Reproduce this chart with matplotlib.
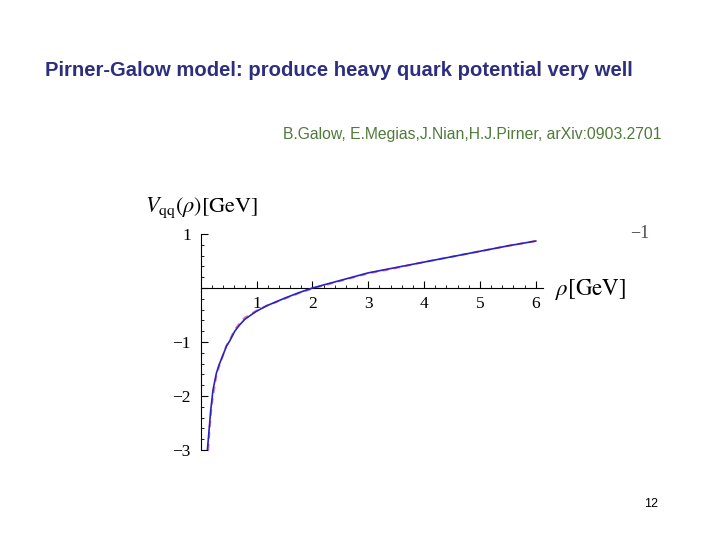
import matplotlib
matplotlib.use("Agg")
import matplotlib.pyplot as plt
from matplotlib.ticker import MultipleLocator, FixedLocator

# ---- data ----
rho_model = [0.12, 0.15, 0.18, 0.22, 0.28, 0.33, 0.40, 0.46, 0.52, 0.61, 0.70, 0.79,
             0.90, 1.00, 1.18, 1.50, 1.75, 2.00, 2.50, 3.00, 3.50, 4.00, 4.50, 5.00, 5.50, 6.00]
V_model = [-3.00, -2.63, -2.26, -1.89, -1.58, -1.42, -1.24, -1.08, -0.98, -0.80, -0.68, -0.58,
           -0.50, -0.43, -0.33, -0.19, -0.09, 0.00, 0.14, 0.28, 0.38, 0.48, 0.58, 0.68, 0.78, 0.87]

rho_ref = [0.135, 0.16, 0.19, 0.22, 0.28, 0.33, 0.40, 0.46, 0.52, 0.61, 0.70, 0.79,
           0.90, 1.00, 1.18, 1.50, 1.75, 2.00, 2.50, 3.00, 3.50, 4.00, 4.50, 5.00, 5.50, 6.00]
V_ref = [-3.00, -2.60, -2.25, -2.00, -1.63, -1.45, -1.24, -1.07, -0.96, -0.77, -0.65, -0.55,
         -0.48, -0.42, -0.33, -0.20, -0.10, -0.01, 0.13, 0.27, 0.37, 0.48, 0.58, 0.68, 0.78, 0.87]

x_ticks = [1, 2, 3, 4, 5, 6]
y_ticks = [-3, -2, -1, 1]

title = "Pirner-Galow model: produce heavy quark potential very well"
subtitle = "B.Galow, E.Megias,J.Nian,H.J.Pirner, arXiv:0903.2701"
page = "12"

plt.rcParams['mathtext.fontset'] = 'stix'

W, H = 720, 540
fig = plt.figure(figsize=(7.2, 5.4), dpi=100)

def fx(px):
    return px / W

def fy(py):
    return 1 - py / H

ax = fig.add_axes([fx(200.7), fy(450), (543 - 200.7) / W, (450 - 234) / H])
ax.set_xlim(0, 6.13)
ax.set_ylim(-3, 1)
ax.patch.set_alpha(0)

ax.plot(rho_ref, V_ref, color='#ec7ca6', lw=1.5, ls=(0, (3, 2.5)), zorder=2)
ax.plot(rho_model, V_model, color='#2424c4', lw=1.2, zorder=3)

for s in ['top', 'right']:
    ax.spines[s].set_visible(False)
ax.spines['left'].set_position(('data', 0))
ax.spines['bottom'].set_position(('data', 0))
for s in ['left', 'bottom']:
    ax.spines[s].set_linewidth(0.8)
    ax.spines[s].set_color('black')

ax.xaxis.set_major_locator(FixedLocator(x_ticks))
ax.xaxis.set_minor_locator(MultipleLocator(0.2))
ax.yaxis.set_major_locator(FixedLocator(y_ticks + [0]))
ax.yaxis.set_minor_locator(MultipleLocator(0.2))
ax.set_xticklabels([str(t) for t in x_ticks])
ax.set_yticklabels(['\u2212' + str(-t) if t < 0 else str(t) for t in y_ticks] + [''])

ax.tick_params(which='major', direction='in', length=5, width=0.8)
ax.tick_params(which='minor', direction='in', length=2.5, width=0.6)
ax.tick_params(axis='x', which='major', pad=6)
ax.tick_params(axis='y', which='major', pad=7)
for lab in ax.get_xticklabels() + ax.get_yticklabels():
    lab.set_fontfamily('Liberation Serif')
    lab.set_fontsize(12.5)

fig.text(fx(145), fy(208), r'$V_{\mathrm{qq}}(\rho)[\mathrm{GeV}]$', fontsize=16,
         ha='left', va='center')
fig.text(fx(555), fy(289), r'$\rho[\mathrm{GeV}]$', fontsize=16.5, ha='left', va='center')
fig.text(fx(640), fy(233), '\u22121', fontsize=13, color='#4a4a4a',
         family='Liberation Serif', ha='center', va='center')

fig.text(fx(45), fy(70), title, fontsize=14.6, fontweight='bold', color='#2e2e80',
         family='Liberation Sans', ha='left', va='center')
fig.text(fx(283), fy(134), subtitle, fontsize=11.3, color='#4f7a3a',
         family='Liberation Sans', ha='left', va='center')
fig.text(fx(651), fy(504), page, fontsize=9, color='black',
         family='Liberation Sans', ha='center', va='center')

fig.savefig('out.png', dpi=100)
